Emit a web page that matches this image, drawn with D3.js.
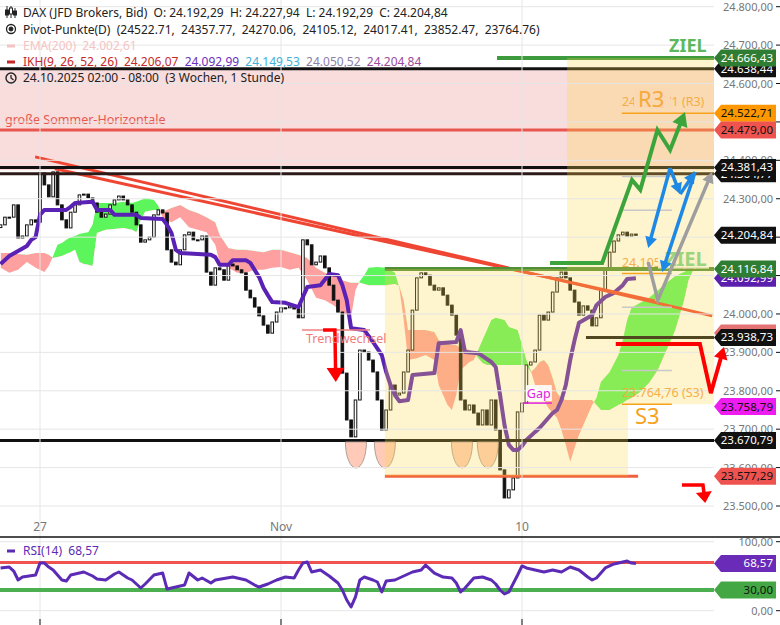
<!DOCTYPE html>
<html><head><meta charset="utf-8">
<script src="https://d3js.org/d3.v7.min.js"></script>
<style>html,body{margin:0;padding:0;background:#fff}svg{display:block;font-family:"Noto Sans",sans-serif}</style>
</head><body>
<svg id="chart" width="780" height="625"></svg>
<script>
// ---------------- DATA ----------------
const tickLabels = ["27", "Nov", "10"];
const tickIdx = [9, 64, 119];
const firstOpen = 24225;
const closes = [24232,24252,24252,24284,24198,24203,24232,24245,24239,24367,
24336,24305,24370,24284,24245,24224,24265,24284,24310,24312,
24302,24289,24265,24252,24260,24284,24297,24307,24297,24284,
24265,24232,24187,24193,24200,24258,24271,24263,24167,24135,
24128,24167,24206,24213,24193,24193,24203,24109,24075,24120,
24115,24088,24130,24125,24115,24107,24062,24042,24018,23995,
23971,23950,23979,24005,24016,24016,24021,24013,23990,24193,
24180,24128,24135,24151,24120,24075,24036,24005,23846,23724,
23680,23776,23906,23901,23880,23849,23776,23698,23750,23815,
23789,23794,23849,23906,24010,24094,24107,24101,24075,24062,
24068,24049,24023,23997,23945,23776,23750,23763,23742,23711,
23750,23711,23776,23698,23594,23521,23542,23573,23745,23768,
23867,23875,23906,23997,23984,24005,24057,24094,24109,24094,
24062,24031,23997,24021,24010,23969,23990,24062,24120,24161,
24190,24206,24213,24203,24208,24204.84];

const cloudIdx = [0,2,4,6,8,10,11,12,13,14,15,16,17,18,19,20,21,22,24,26,28,30,31,32,33,35,36,37,39,41,43,45,47,49,50,52,54,56,58,60,62,64,66,68,70,72,74,76,78,80,81,82,83,84,86,88,90,91,92,93,95,97,99,100,101,102,103,104,105,107,108,109,110,111,112,113,115,116,118,119,120,121,122,123,124,125,126,127,128,129,130,131,132,133,134,135,136,137,139,141,142,143,144,146,148,150,152,154,156,157,158];
const spanA = [24120,24107,24115,24135,24120,24109,24125,24151,24180,24185,24193,24200,24203,24208,24211,24213,24232,24289,24289,24289,24292,24289,24292,24297,24302,24297,24281,24250,24239,24252,24226,24219,24213,24180,24133,24120,24107,24107,24115,24115,24120,24122,24115,24120,24088,24042,24036,24023,24003,23992,24062,24086,24101,24120,24122,24120,24107,24068,23984,23880,23885,23893,23880,23815,23789,23763,23750,23789,23854,23875,23880,23906,23932,23958,23984,23990,23984,23966,23958,23919,23880,23852,23815,23789,23776,23755,23742,23729,23698,23659,23615,23651,23685,23711,23737,23763,23781,23823,23849,23893,23932,23984,24016,24029,24042,24062,24081,24099,24109,24115,24115];
const spanB = [24159,24159,24156,24154,24159,24159,24154,24146,24148,24151,24156,24161,24167,24135,24130,24128,24125,24211,24219,24221,24224,24219,24213,24245,24266,24271,24271,24266,24276,24284,24271,24263,24252,24239,24206,24172,24167,24167,24164,24161,24167,24167,24161,24154,24146,24120,24107,24101,24088,24081,24081,24081,24078,24075,24075,24075,24078,24073,24036,23958,23958,23958,23953,23932,23927,23924,23919,23919,23911,23906,23901,23885,23872,23867,23867,23867,23867,23867,23867,23867,23867,23849,23859,23875,23880,23867,23833,23794,23781,23776,23776,23776,23776,23776,23776,23776,23763,23750,23750,23763,23768,23776,23781,23797,23820,23854,23906,23958,24036,24088,24112];

const kijunIdx = [0,2,4,6,7,8,9,10,15,16,17,21,22,25,26,31,32,37,38,39,40,41,48,49,50,52,53,56,57,59,60,61,62,65,68,69,70,73,75,77,78,79,80,83,85,87,88,89,90,91,93,94,99,100,104,105,106,109,112,113,114,115,116,117,118,119,120,122,123,125,126,127,128,129,130,131,132,134,135,136,138,140,142,143,145];
const kijun = [24130,24151,24164,24177,24193,24200,24258,24271,24271,24279,24289,24292,24271,24271,24258,24258,24250,24247,24232,24211,24167,24159,24154,24148,24128,24128,24140,24140,24133,24096,24068,24049,24031,24029,24018,24044,24070,24075,24104,24101,24075,24036,23963,23958,23927,23893,23849,23815,23789,23773,23776,23841,23846,23924,23927,23958,23901,23898,23875,23862,23789,23711,23659,23646,23646,23656,23672,23693,23703,23729,23742,23750,23776,23815,23880,23932,23977,23990,23997,24023,24044,24055,24075,24091,24092.99];

const rsiIdx = [0,2,3,4,5,8,9,10,11,12,14,15,16,19,21,22,24,26,27,29,30,32,33,35,37,38,40,42,43,45,46,48,49,53,56,58,59,61,63,65,67,68,69,70,71,73,75,77,78,79,80,81,82,83,85,86,87,88,90,92,94,96,97,99,101,103,104,105,106,108,110,112,113,114,115,116,118,119,120,122,124,126,128,130,132,134,135,136,138,140,142,143,144,145];
const rsi = [61.9,63.3,57.5,44.5,48.8,51.7,69.1,69.1,63.3,59.0,44.5,43.0,51.7,56.1,50.3,45.9,44.5,53.2,56.1,47.4,44.5,32.9,38.7,51.7,54.6,31.4,34.3,37.2,54.6,44.5,47.4,40.1,44.5,48.8,44.5,37.2,34.3,38.7,44.5,48.8,47.4,59.0,69.1,70.6,56.1,59.0,50.3,40.1,30.0,15.5,5.4,19.9,44.5,48.8,44.5,41.6,27.1,43.0,44.5,50.3,56.1,59.0,66.2,54.6,48.8,47.4,40.1,27.1,32.9,47.4,48.8,44.5,38.7,30.0,24.2,27.1,51.7,64.8,61.9,59.0,56.1,59.0,56.1,63.3,59.0,48.8,44.5,47.4,61.9,67.7,70.6,72.0,69.1,68.57];
const rsiLevels = [70, 30];

const blackLevels = [24638.44, 24381.43, 24364.77, 23670.79];
const sommerLevel = 24479.00;
const pinkBand = [24638.44, 24374];
const zielLevels = [24666.43, 24116.84];
const zielStartIdx = [113.3, 87.7];
const supportLevel = 23938.73, supportStartIdx = 133.6;
const lowLevel = 23577.29, lowSpan = [87.7, 145.5];
const pivotNames = ["R3","R2","R1","P","S1","S2","S3"];
const pivotValues = [24522.71,24357.77,24270.06,24105.12,24017.41,23852.47,23764.76];
const pivotSpan = [141.8, 153.2];
const zoneIdx = [87.7,129.3,129.3,170,170,143.2,143.2,87.7];
const zonePrice = [24116.84,24116.84,24666.43,24666.43,23764.76,23764.76,23577.29,23577.29];
const trendFrom = [[7.9,24409],[12.4,24378]];
const trendTo = [[162.4,23995],[149.3,24034]];
const bowlIdx = [81.1, 87.7, 105.3, 111.2];
const bowlHalf = 2.4, bowlBottom = 23599;
const trendwechselLine = [[68.8,23958],[84.3,23958]];

const arrowGreen = [[125.4,24133],[137.3,24133],[144.1,24349],[146.0,24323],[149.9,24479],[152.8,24427],[156.2,24526]];
const arrowsBlue = [[[152.8,24380],[147.8,24172]],[[152.8,24380],[155.1,24312]],[[155.1,24312],[158.5,24370]],[[158.5,24370],[151.0,24109]]];
const arrowGray = [[147.8,24135],[150.0,24036],[162.4,24370]];
const arrowRedV = [[140.4,23922],[159.6,23922],[162.1,23794],[165.1,23914]];
const arrowRedSmall = [[155.5,23555],[160.3,23555],[160.8,23508]];
const arrowTrend = [[73.6,23958],[76.3,23958],[76.5,23823]];
const gapPos = [120.1, 23781];

const tagVals = [24638.44,24666.43,24522.71,24479.00,24364.77,24381.43,24204.84,24092.99,24116.84,23950.74,23938.73,23758.79,23670.79,23577.29];
const tagKinds = ["black","green","orange","red","black","black","black","purple","green","salmon","black","magenta","black","red"];
const rsiTagVals = [68.57, 30.00];
const rsiTagKinds = ["purple2","green2"];

// ---------------- SETUP ----------------
const svg = d3.select('#chart');
const PR = 714, PB = 537;
const x = d3.scaleLinear().domain([tickIdx[0], tickIdx[2]]).range([40, 522]);
const y = d3.scaleLinear().domain([23500, 24800]).range([506, 6.7]);
const yr = d3.scaleLinear().domain([0, 100]).range([610.7, 541.7]);
const de = d3.formatLocale({decimal: ",", thousands: ".", grouping: [3], currency: ["", ""]});
const f2 = de.format(",.2f");
const tagStyle = {black:["#111","#fff"], green:["#2f7d32","#fff"], orange:["#ff9800","#111"], red:["#ef5350","#111"],
  purple:["#5b1fae","#fff"], salmon:["#e57373","#111"], magenta:["#ee1cee","#111"], purple2:["#6a2bb8","#fff"], green2:["#43a843","#111"]};

const defs = svg.append('defs');
defs.append('clipPath').attr('id','plotClip').append('rect').attr('x',0).attr('y',0).attr('width',PR).attr('height',PB);
const cloud = cloudIdx.map((d,k)=>({i:d, a:spanA[k], b:spanB[k]}));
defs.append('clipPath').attr('id','aboveB').append('path')
  .attr('d', d3.area().x(d=>x(d.i)).y0(0).y1(d=>y(d.b))(cloud));
defs.append('clipPath').attr('id','belowB').append('path')
  .attr('d', d3.area().x(d=>x(d.i)).y0(d=>y(d.b)).y1(PB)(cloud));

const plot = svg.append('g').attr('clip-path','url(#plotClip)');

// pink band
plot.append('rect').attr('x',0).attr('width',PR).attr('y',y(pinkBand[0])).attr('height',y(pinkBand[1])-y(pinkBand[0])).attr('fill','#f9dcdc');

// grid
const priceTicks = d3.range(23500, 24801, 100);
svg.append('g').selectAll('line').data(priceTicks).join('line')
  .attr('x1',0).attr('x2',PR).attr('y1',d=>y(d)).attr('y2',d=>y(d)).attr('stroke','#e6e6e6').attr('stroke-width',1);
svg.append('g').selectAll('line').data(tickIdx).join('line')
  .attr('x1',d=>x(d)).attr('x2',d=>x(d)).attr('y1',0).attr('y2',625).attr('stroke','#e6e6e6').attr('stroke-width',1);
svg.append('g').selectAll('line').data([100,0]).join('line')
  .attr('x1',0).attr('x2',PR).attr('y1',d=>yr(d)).attr('y2',d=>yr(d)).attr('stroke','#e6e6e6');

// cloud
const areaAB = d3.area().x(d=>x(d.i)).y0(d=>y(d.a)).y1(d=>y(d.b));
plot.append('path').attr('d',areaAB(cloud)).attr('fill','#5cf55c').attr('clip-path','url(#aboveB)');
plot.append('path').attr('d',areaAB(cloud)).attr('fill','#ffa0a0').attr('clip-path','url(#belowB)');

// sommer text
plot.append('text').attr('x',5).attr('y',y(sommerLevel)-6).attr('fill','#e8574f').attr('font-size',12.5).text('große Sommer-Horizontale');

// candles
const candles = closes.map((c,i)=>({i, o: i===0?firstOpen:closes[i-1], c}));
plot.append('g').selectAll('rect').data(candles).join('rect')
  .attr('x',d=>x(d.i)-1.3).attr('width',2.6)
  .attr('y',d=>y(Math.max(d.o,d.c)))
  .attr('height',d=>Math.max(1, Math.abs(y(d.o)-y(d.c))))
  .attr('fill',d=>d.c>=d.o?'#fff':'#111').attr('stroke','#111').attr('stroke-width',1);

// kijun
plot.append('path').attr('d', d3.line().x((d,k)=>x(kijunIdx[k])).y(d=>y(d))(kijun))
  .attr('fill','none').attr('stroke','#5a22b4').attr('stroke-width',4).attr('stroke-linejoin','round');

// trendlines
trendFrom.forEach((p,k)=>{
  plot.append('line').attr('x1',x(p[0])).attr('y1',y(p[1])).attr('x2',x(trendTo[k][0])).attr('y2',y(trendTo[k][1]))
    .attr('stroke','#ef4634').attr('stroke-width',3);
});

// horizontal levels
blackLevels.forEach((v,k)=>{
  plot.append('line').attr('x1',0).attr('x2',PR).attr('y1',y(v)).attr('y2',y(v))
    .attr('stroke', k===2?'#2b1a18':'#111').attr('stroke-width',3);
});
plot.append('line').attr('x1',0).attr('x2',PR).attr('y1',y(sommerLevel)).attr('y2',y(sommerLevel)).attr('stroke','#e8574f').attr('stroke-width',3);
zielLevels.forEach((v,k)=>{
  plot.append('line').attr('x1',x(zielStartIdx[k])).attr('x2',PR).attr('y1',y(v)).attr('y2',y(v))
    .attr('stroke', k===0?'#3d9a3d':'#4f8f38').attr('stroke-width',4);
});
plot.append('line').attr('x1',x(supportStartIdx)).attr('x2',PR).attr('y1',y(supportLevel)).attr('y2',y(supportLevel)).attr('stroke','#111').attr('stroke-width',3);
plot.append('line').attr('x1',x(lowSpan[0])).attr('x2',x(lowSpan[1])).attr('y1',y(lowLevel)).attr('y2',y(lowLevel)).attr('stroke','#f0603c').attr('stroke-width',3);

// trendwechsel thin line
plot.append('line').attr('x1',x(trendwechselLine[0][0])).attr('x2',x(trendwechselLine[1][0]))
  .attr('y1',y(trendwechselLine[0][1])).attr('y2',y(trendwechselLine[1][1])).attr('stroke','#f08080').attr('stroke-width',1.5);

// bowls
bowlIdx.forEach(c=>{
  const xl=x(c-bowlHalf), xr=x(c+bowlHalf), yt=y(blackLevels[3])+1.5, ry=y(bowlBottom)-yt, rx=(xr-xl)/2;
  plot.append('path').attr('d',`M${xl},${yt} A${rx},${ry} 0 0 0 ${xr},${yt} Z`)
    .attr('fill','#ffcbb8').attr('stroke','#9a8f88').attr('stroke-width',0.8);
});

// yellow zone overlay
plot.append('path').attr('d', d3.line()(zoneIdx.map((d,k)=>[x(d), y(zonePrice[k])])) + 'Z')
  .attr('fill','rgba(250,215,70,0.27)');

// pivots
const ann = svg.append('g');
pivotValues.forEach((v,k)=>{
  const main = pivotNames[k]==='R3'||pivotNames[k]==='P'||pivotNames[k]==='S3';
  ann.append('line').attr('x1',x(pivotSpan[0])).attr('x2', pivotNames[k]==='R3'?PR:x(pivotSpan[1]))
    .attr('y1',y(v)).attr('y2',y(v)).attr('stroke', main?'#f7a21b':'#c8c8c8').attr('stroke-width',1.5);
  if (main) {
    ann.append('text').attr('x',x(pivotSpan[0])).attr('y',y(v)-7).attr('fill','#f7a83a').attr('font-size',12.5)
      .attr('opacity',0.9).text(f2(v)+' ('+pivotNames[k]+')');
  }
});
// big overlays
ann.append('rect').attr('x',634).attr('y',y(pivotValues[0])-25).attr('width',36).attr('height',19).attr('fill','#f9d8b2');
ann.append('text').attr('x',638).attr('y',y(pivotValues[0])-6).attr('fill','#f7a83a').attr('font-size',22).text('R3');
ann.append('rect').attr('x',658).attr('y',y(pivotValues[3])-24).attr('width',51).attr('height',19).attr('fill','#fdf2cb').attr('opacity',0.85);
ann.append('text').attr('x',665).attr('y',y(pivotValues[3])-8).attr('fill','#9bd47e').attr('font-size',20).attr('font-weight','bold').text('ZIEL');
ann.append('text').attr('x',635).attr('y',y(pivotValues[6])+20).attr('fill','#f7a21b').attr('font-size',22).text('S3');
ann.append('text').attr('x',669).attr('y',y(zielLevels[0])-6).attr('fill','#5cb85c').attr('font-size',18).attr('font-weight','bold').text('ZIEL');

// arrows
function arrow(layer, pts, color, w, hl, hw){
  const P = pts.map(p=>[x(p[0]), y(p[1])]);
  const n=P.length, [x1,y1]=P[n-2], [x2,y2]=P[n-1];
  const a=Math.atan2(y2-y1,x2-x1), c=Math.cos(a), s=Math.sin(a);
  const bx=x2-c*hl, by=y2-s*hl;
  const line=P.slice(0,n-1).concat([[bx+c,by+s]]);
  layer.append('path').attr('d',d3.line()(line)).attr('fill','none').attr('stroke',color).attr('stroke-width',w).attr('stroke-linejoin','miter');
  layer.append('path').attr('d',`M${x2},${y2}L${bx-s*hw},${by+c*hw}L${bx+s*hw},${by-c*hw}Z`).attr('fill',color);
}
arrow(ann, arrowGreen,'#3ba53b',4,14,8);
arrowsBlue.forEach(p=>arrow(ann, p,'#1e88e5',3.5,11,6));
arrow(ann, arrowGray,'#9e9e9e',3.5,11,6);
arrow(ann, arrowRedSmall,'#ff0000',3.5,11,8);
arrow(ann, arrowTrend,'#ff0000',3.5,14,9);

// Trendwechsel text
ann.append('text').attr('x',x(trendwechselLine[0][0])+4).attr('y',y(trendwechselLine[0][1])+13).attr('fill','#f07a7a').attr('font-size',12.5).text('Trendwechsel');
// Gap
const gx=x(gapPos[0]), gy=y(gapPos[1]);
ann.append('rect').attr('x',gx-1).attr('y',gy-13).attr('width',26).attr('height',16).attr('fill','#fff').attr('opacity',0.9);
ann.append('text').attr('x',gx).attr('y',gy).attr('fill','#e01ee0').attr('font-size',12.5).text('Gap');
ann.append('line').attr('x1',gx-4).attr('x2',gx+25).attr('y1',gy+5).attr('y2',gy+5).attr('stroke','#e01ee0').attr('stroke-width',1.5);

// ---------------- RSI ----------------
svg.append('line').attr('x1',0).attr('x2',780).attr('y1',PB).attr('y2',PB).attr('stroke','#111').attr('stroke-width',1.5);
svg.append('line').attr('x1',0).attr('x2',PR).attr('y1',yr(rsiLevels[0])).attr('y2',yr(rsiLevels[0])).attr('stroke','#ef5350').attr('stroke-width',3);
svg.append('line').attr('x1',0).attr('x2',PR).attr('y1',yr(rsiLevels[1])).attr('y2',yr(rsiLevels[1])).attr('stroke','#4caf50').attr('stroke-width',4);
svg.append('path').attr('d', d3.line().x((d,k)=>x(rsiIdx[k])).y(d=>yr(d))(rsi))
  .attr('fill','none').attr('stroke','#5b2bb5').attr('stroke-width',3).attr('stroke-linejoin','round');

// ---------------- AXES ----------------
const tagYs = tagVals.map(v=>y(v));
const hidden = yy => tagYs.some(t=>Math.abs(t-yy)<6) ||
  (tagYs.some(t=>t<yy && yy-t<10) && tagYs.some(t=>t>yy && t-yy<10));
const ax = svg.append('g').attr('font-size',11).attr('fill','#777');
priceTicks.forEach(v=>{
  if (!hidden(y(v))) ax.append('text').attr('x',773).attr('y',y(v)+4).attr('text-anchor','end').text(f2(v));
  svg.append('line').attr('x1',776).attr('x2',780).attr('y1',y(v)).attr('y2',y(v)).attr('stroke','#111');
});
[100,0].forEach(v=>{
  ax.append('text').attr('x',773).attr('y',yr(v)+4).attr('text-anchor','end').text(f2(v));
  svg.append('line').attr('x1',776).attr('x2',780).attr('y1',yr(v)).attr('y2',yr(v)).attr('stroke','#111');
});
tickIdx.forEach((t,k)=>{
  ax.append('text').attr('x',x(t)).attr('y',531).attr('text-anchor','middle').attr('font-size',12).text(tickLabels[k]);
  svg.append('line').attr('x1',x(t)).attr('x2',x(t)).attr('y1',619).attr('y2',625).attr('stroke','#111');
});

// tags
function tag(yc, text, kind){
  const [bg,fg]=tagStyle[kind];
  const g=svg.append('g');
  g.append('path').attr('d',`M714,${yc} L721,${yc-8.5} L776,${yc-8.5} L776,${yc+8.5} L721,${yc+8.5} Z`).attr('fill',bg);
  g.append('text').attr('x',773).attr('y',yc+4).attr('text-anchor','end').attr('fill',fg).attr('font-size',11.5).text(text);
}
tagVals.forEach((v,k)=>tag(y(v), f2(v), tagKinds[k]));
rsiTagVals.forEach((v,k)=>tag(yr(v), f2(v), rsiTagKinds[k]));

// red V arrow drawn above the tags
arrow(svg.append('g'), arrowRedV,'#ff0000',4,12,7);

// ---------------- LEGEND ----------------
const lg = svg.append('g').attr('font-size',12);
const ic = lg.append('g').attr('stroke','#222').attr('fill','none');
ic.append('line').attr('x1',7).attr('x2',7).attr('y1',6).attr('y2',18);
ic.append('rect').attr('x',5.5).attr('y',10).attr('width',3).attr('height',5).attr('fill','#222');
ic.append('line').attr('x1',11).attr('x2',11).attr('y1',6).attr('y2',18);
ic.append('rect').attr('x',9.5).attr('y',8).attr('width',3).attr('height',6).attr('fill','#fff');
ic.append('line').attr('x1',15).attr('x2',15).attr('y1',8).attr('y2',18);
ic.append('rect').attr('x',13.5).attr('y',11).attr('width',3).attr('height',4).attr('fill','#222');
ic.append('circle').attr('cx',11).attr('cy',29).attr('r',4.5).attr('stroke-width',1.3);
ic.append('circle').attr('cx',11).attr('cy',29).attr('r',2).attr('fill','#222');
lg.append('rect').attr('x',7).attr('y',44.5).attr('width',8).attr('height',3).attr('fill','#f6c3c3');
lg.append('rect').attr('x',7).attr('y',60.5).attr('width',8).attr('height',3).attr('fill','#c62828');
ic.append('circle').attr('cx',11).attr('cy',78).attr('r',5).attr('stroke-width',1.4);
ic.append('path').attr('d','M11,75 L11,78 L13.5,80').attr('stroke-width',1.3);

const nb='\u00a0';
lg.append('text').attr('x',23).attr('y',17).attr('fill','#222')
  .text('DAX (JFD Brokers, Bid)'+nb+nb+'O: 24.192,29'+nb+nb+'H: 24.227,94'+nb+nb+'L: 24.192,29'+nb+nb+'C: 24.204,84');
lg.append('text').attr('x',23).attr('y',33.5).attr('fill','#222')
  .text('Pivot-Punkte(D)'+nb+nb+'('+pivotValues.map(v=>v.toFixed(2)).join(','+nb+nb)+')');
lg.append('text').attr('x',23).attr('y',50).attr('fill','#f6c3c3').text('EMA(200)'+nb+nb+'24.002,61');
const t4 = lg.append('text').attr('x',23).attr('y',66);
[['IKH(9, 26, 52, 26)','#c62828'],['24.206,07','#c62828'],['24.092,99','#6a2ec0'],['24.149,53','#3fb0d8'],['24.050,52','#8a80a8'],['24.204,84','#9a4a9a']]
  .forEach((p,k)=>t4.append('tspan').attr('fill',p[1]).text((k?nb+nb:'')+p[0]));
lg.append('text').attr('x',23).attr('y',82).attr('fill','#222').text('24.10.2025 02:00 - 08:00'+nb+nb+'(3 Wochen, 1 Stunde)');
lg.append('rect').attr('x',7).attr('y',549.5).attr('width',8).attr('height',3).attr('fill','#5b2bb5');
lg.append('text').attr('x',23).attr('y',555).attr('fill','#5b2bb5').text('RSI(14)'+nb+nb+'68,57');
</script>
</body></html>
